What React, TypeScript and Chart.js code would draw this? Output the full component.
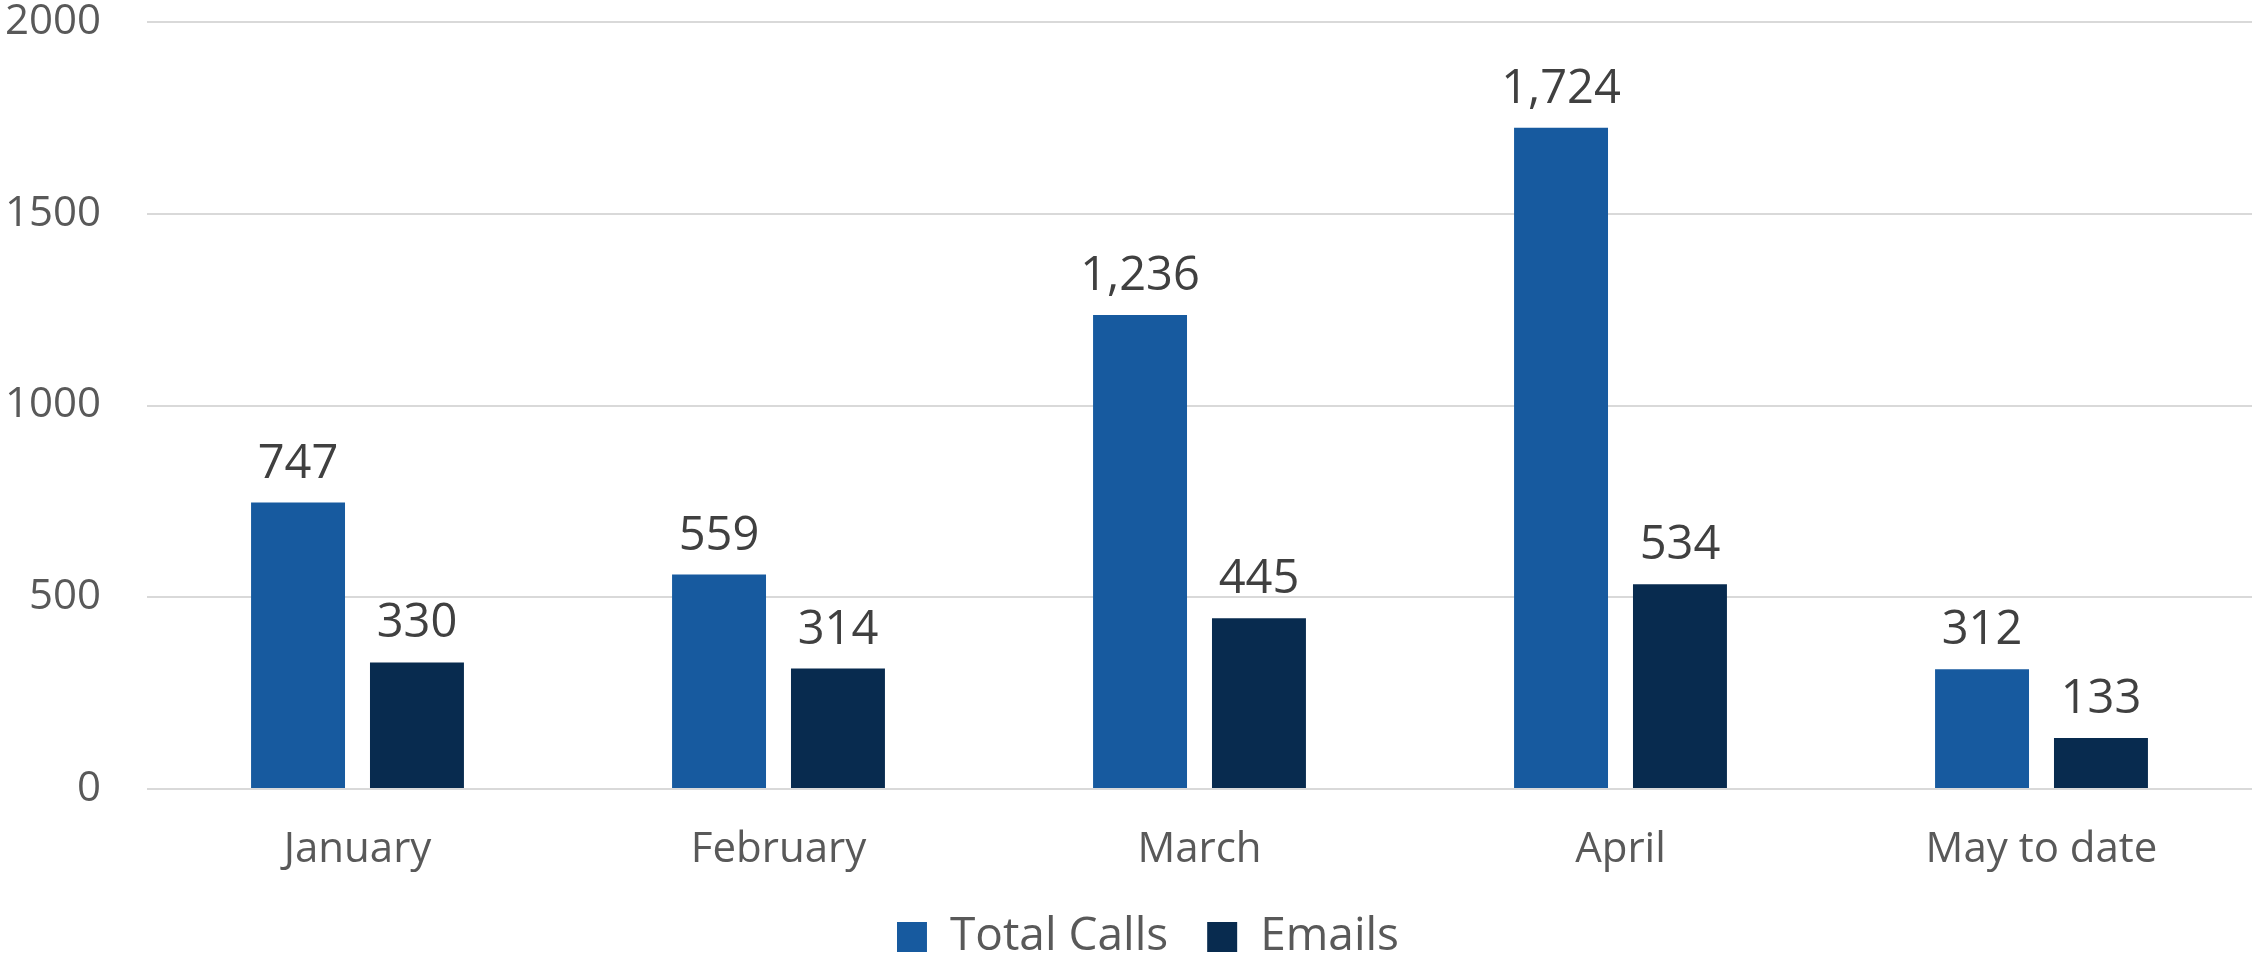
import React, { useEffect, useRef } from "react";
import { Chart, registerables } from "chart.js";

Chart.register(...registerables);

const categories = ["January", "February", "March", "April", "May to date"];
const totalCalls = [747, 559, 1236, 1724, 312];
const emails = [330, 314, 445, 534, 133];
const yTicks = [0, 500, 1000, 1500, 2000];

const FONT = "'Open Sans', sans-serif";

const valueLabels = {
  id: "valueLabels",
  afterDatasetsDraw(chart: any) {
    const ctx = chart.ctx;
    ctx.save();
    ctx.font = `47px ${FONT}`;
    ctx.fillStyle = "#404040";
    ctx.textAlign = "center";
    ctx.textBaseline = "alphabetic";
    chart.data.datasets.forEach((ds: any, di: number) => {
      const meta = chart.getDatasetMeta(di);
      meta.data.forEach((el: any, i: number) => {
        const v = ds.data[i] as number;
        ctx.fillText(v.toLocaleString("en-US"), el.x, el.y - 25);
      });
    });
    ctx.restore();
  },
};

const layoutTweak = {
  id: "layoutTweak",
  afterLayout(chart: any) {
    if (chart.legend) {
      chart.legend.top += 13;
      chart.legend.bottom += 13;
      chart.legend.left += 22;
      chart.legend.right += 22;
    }
    const x = chart.scales.x;
    if (x) {
      x.bottom = chart.height;
      x.height = x.bottom - x.top;
    }
  },
};

export default function App() {
  const ref = useRef<HTMLCanvasElement | null>(null);
  useEffect(() => {
    if (!ref.current) return;
    const chart = new Chart(ref.current, {
      type: "bar",
      data: {
        labels: categories,
        datasets: [
          {
            label: "Total Calls",
            data: totalCalls,
            backgroundColor: "#175A9F",
            borderWidth: 0,
            categoryPercentage: 0.565,
            barPercentage: 0.79,
          },
          {
            label: "Emails",
            data: emails,
            backgroundColor: "#082B4F",
            borderWidth: 0,
            categoryPercentage: 0.565,
            barPercentage: 0.79,
          },
        ],
      },
      options: {
        responsive: false,
        animation: false,
        devicePixelRatio: 1,
        layout: { padding: { top: 22, left: 0, right: 0, bottom: 0 } },
        plugins: {
          tooltip: { enabled: false },
          legend: {
            position: "bottom",
            labels: {
              boxWidth: 30,
              boxHeight: 30,
              padding: 39,
              color: "#595959",
              font: { family: FONT, size: 46 },
            },
          },
        },
        scales: {
          x: {
            grid: { display: false, drawTicks: false },
            border: { display: false },
            ticks: {
              color: "#595959",
              padding: 36,
              font: { family: FONT, size: 42 },
              maxRotation: 0,
            },
            afterFit(scale: any) {
              scale.height = 73;
            },
          },
          y: {
            min: 0,
            max: 2000,
            grid: { color: "#d9d9d9", lineWidth: 2, drawTicks: false },
            border: { display: false },
            afterBuildTicks(scale: any) {
              scale.ticks = yTicks.map((v) => ({ value: v }));
            },
            ticks: {
              color: "#595959",
              padding: 46,
              font: { family: FONT, size: 42, lineHeight: 1 },
              callback: (v: any) => String(v),
            },
            afterFit(scale: any) {
              scale.width = 147;
              scale.paddingTop = 0;
              scale.paddingBottom = 0;
            },
          },
        },
      },
      plugins: [valueLabels, layoutTweak],
    });
    return () => chart.destroy();
  }, []);
  return (
    <div style={{ position: "fixed", left: 0, top: 0, width: 2252, height: 957, background: "#fff" }}>
      <canvas ref={ref} width={2252} height={957} style={{ width: 2252, height: 957, display: "block" }} />
    </div>
  );
}
